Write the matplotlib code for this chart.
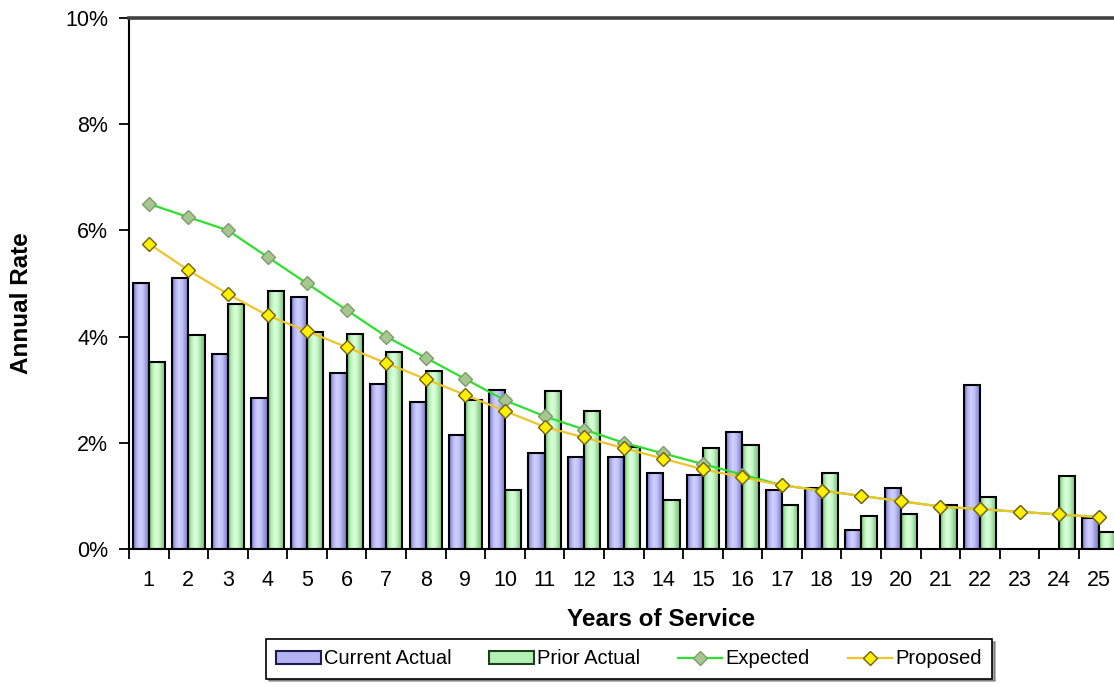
import numpy as np
import matplotlib
matplotlib.use("Agg")
import matplotlib.pyplot as plt
from matplotlib.colors import LinearSegmentedColormap
from matplotlib.patches import Patch
from matplotlib.lines import Line2D

plt.rcParams['font.family'] = ['Liberation Sans', 'DejaVu Sans']

# years of service 1..25
years = [str(i) for i in range(1, 26)]

# annual rates in percent
current_actual = [5.00, 5.10, 3.67, 2.84, 4.75, 3.31, 3.11, 2.77, 2.15, 2.99,
                  1.81, 1.73, 1.73, 1.43, 1.39, 2.20, 1.11, 1.15, 0.36, 1.15,
                  0.00, 3.09, 0.00, 0.00, 0.59]
prior_actual = [3.52, 4.03, 4.61, 4.86, 4.09, 4.05, 3.71, 3.35, 2.81, 1.11,
                2.98, 2.60, 1.92, 0.92, 1.90, 1.96, 0.83, 1.43, 0.62, 0.66,
                0.83, 0.98, 0.00, 1.37, 0.32]
expected = [6.50, 6.25, 6.00, 5.50, 5.00, 4.50, 4.00, 3.60, 3.20, 2.80,
            2.50, 2.25, 2.00, 1.80, 1.60, 1.40, 1.20, 1.10, 1.00, 0.90,
            0.80, 0.75, 0.70, 0.65, 0.60]
proposed = [5.75, 5.25, 4.80, 4.40, 4.10, 3.80, 3.50, 3.20, 2.90, 2.60,
            2.30, 2.10, 1.90, 1.70, 1.50, 1.35, 1.20, 1.10, 1.00, 0.90,
            0.80, 0.75, 0.70, 0.65, 0.60]

blue_cmap = LinearSegmentedColormap.from_list(
    "blue_bar", ["#6a6ab8", "#b2b2f4", "#d0d0ff", "#c2c2fc", "#9898dc", "#7a7ac4"])
green_cmap = LinearSegmentedColormap.from_list(
    "green_bar", ["#6cb46c", "#b4f0b4", "#dcffdc", "#c8f8c8", "#9ad89a", "#7cc07c"])

fig = plt.figure(figsize=(11.14, 6.87), dpi=100)
ax = fig.add_axes([0.1158, 0.2009, 0.8882, 0.7729])

x = np.arange(len(years))
w = 0.41
grad = np.linspace(0, 1, 64).reshape(1, -1)


def shaded_bars(xpos, vals, cmap, z):
    bars = ax.bar(xpos, vals, w, facecolor="none", edgecolor="black",
                  linewidth=1.5, zorder=z + 0.5)
    for b in bars:
        if b.get_height() <= 0:
            b.set_visible(False)
            continue
        x0, y0 = b.get_x(), b.get_y()
        im = ax.imshow(grad, cmap=cmap, aspect="auto", zorder=z,
                       extent=(x0, x0 + b.get_width(), y0, y0 + b.get_height()))
        im.set_clip_path(b)
    return bars


shaded_bars(x - w / 2, current_actual, blue_cmap, 2)
shaded_bars(x + w / 2, prior_actual, green_cmap, 2)

ax.plot(x, expected, color="#2ee02e", lw=1.6, marker="D", ms=7,
        mfc="#a6c890", mec="#7c9c6c", mew=1, zorder=5)
ax.plot(x, proposed, color="#f0c428", lw=1.6, marker="D", ms=7,
        mfc="#fff000", mec="#706010", mew=1, zorder=6)

ax.set_xlim(-0.5, len(years) - 0.5)
ax.set_ylim(0, 10)

# boundary ticks without labels, labels centred on each year
ax.set_xticks(np.arange(-0.5, len(years), 1))
ax.set_xticklabels([])
ax.set_xticks(x, minor=True)
ax.set_xticklabels(years, minor=True)
ax.tick_params(axis="x", which="major", length=7, width=1.3, direction="out")
ax.tick_params(axis="x", which="minor", length=0, pad=15, labelsize=15.5)

ax.set_yticks(np.arange(0, 11, 2))
ax.set_yticklabels([f"{v}%" for v in range(0, 11, 2)])
ax.tick_params(axis="y", length=7, width=1.3, direction="out", pad=8, labelsize=15.5)

ax.spines["right"].set_visible(False)
ax.spines["top"].set_color("#404040")
ax.spines["top"].set_linewidth(2.6)
ax.spines["left"].set_linewidth(1.5)
ax.spines["bottom"].set_linewidth(1.5)

fig.text(661 / 1114, 1 - 619 / 687, "Years of Service", ha="center", va="center",
         fontsize=17.5, fontweight="bold")
fig.text(22 / 1114, 1 - 303 / 687, "Annual Rate", ha="center", va="center",
         rotation=90, fontsize=17.5, fontweight="bold")

handles = [
    Patch(facecolor="#b2b2f4", edgecolor="#1c1c50", linewidth=1.5),
    Patch(facecolor="#b4f0b4", edgecolor="#1c401c", linewidth=1.5),
    Line2D([], [], color="#2ee02e", lw=1.6, marker="D", ms=7,
           mfc="#a6c890", mec="#7c9c6c"),
    Line2D([], [], color="#f0c428", lw=1.6, marker="D", ms=7,
           mfc="#fff000", mec="#706010"),
]
labels = ["Current Actual", "Prior Actual", "Expected", "Proposed"]
leg = fig.legend(handles, labels, loc="center", ncol=4,
                 bbox_to_anchor=(629 / 1114, 1 - 659 / 687),
                 fontsize=14.5, frameon=True, fancybox=False, shadow=True,
                 edgecolor="black", handlelength=2.2, handleheight=0.6,
                 handletextpad=0.15, columnspacing=1.9, borderpad=0.5)
leg.get_frame().set_linewidth(1.2)

fig.savefig("out.png", dpi=100)
